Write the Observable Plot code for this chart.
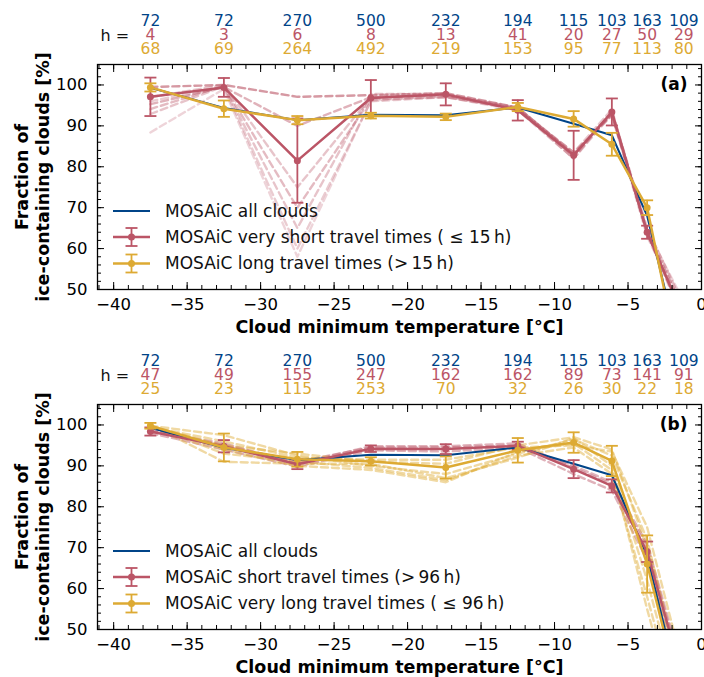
<!DOCTYPE html>
<html><head><meta charset="utf-8">
<script src="https://cdn.jsdelivr.net/npm/d3@7"></script>
<script src="https://cdn.jsdelivr.net/npm/@observablehq/plot@0.6"></script>
<style>
body{margin:0;background:#fff;font-family:"DejaVu Sans",sans-serif;}
.panel{position:relative;width:704px;}
.panel svg.plotsvg{display:block;}
.legend{position:absolute;left:0;top:0;pointer-events:none;}
</style></head><body>
<div id="pa" class="panel"></div>
<div id="pb" class="panel"></div>
<script>
// ---------------- data ----------------
const temps = [-37.5, -32.5, -27.5, -22.5, -17.4, -12.5, -8.7, -6.1, -3.7, -1.2];
const hAll     = [72, 72, 270, 500, 232, 194, 115, 103, 163, 109];
const hShortA  = [4, 3, 6, 8, 13, 41, 20, 27, 50, 29];
const hLongA   = [68, 69, 264, 492, 219, 153, 95, 77, 113, 80];
const hShortB  = [47, 49, 155, 247, 162, 162, 89, 73, 141, 91];
const hLongB   = [25, 23, 115, 253, 70, 32, 26, 30, 22, 18];

const fracAll = [99.3, 94.4, 91.4, 92.7, 92.6, 94.5, 90.5, 87.7, 68, 31];

const fracVeryShortA = [97.1, 99.4, 81.5, 96.8, 97.7, 93.8, 82.8, 93.4, 64, 43];
const errVeryShortA  = [4.7, 2.3, 10.3, 4.4, 2.7, 2.5, 6.0, 3.3, 1.6, 3];
const fracLongA      = [99.4, 94.2, 91.4, 92.5, 92.2, 94.6, 91.7, 85.5, 70, 27];
const errLongA       = [1.0, 2.0, 1.0, 0.7, 0.8, 1.0, 1.9, 2.8, 1.8, 2];

const fracShortB     = [98.4, 94.8, 90.4, 94.2, 94.1, 94.9, 89.2, 85.1, 69, 37];
const errShortB      = [1.0, 1.5, 1.2, 0.8, 1.2, 1.0, 2.2, 1.6, 2.5, 3];
const fracVeryLongB  = [99.8, 94.5, 91.6, 91.1, 89.6, 93.8, 95.7, 91.2, 66, 30];
const errVeryLongB   = [0.7, 3.4, 1.8, 1.0, 2.7, 3.0, 2.5, 3.7, 7.0, 5];

// sensitivity runs (dashed, translucent)
const sensVeryShortA = [
  [99.5, 100, 97.1, 97.5, 98.0, 94.5, 83.0, 93.0, 64, 45],
  [95.3, 99.5, 90.0, 97.0, 97.5, 94.0, 83.5, 92.5, 64, 42],
  [94.1, 99.8, 70.0, 96.5, 97.0, 94.2, 82.0, 93.5, 65, 46],
  [92.9, 99.7, 65.0, 97.8, 97.8, 94.3, 83.5, 94.0, 63.5, 44],
  [88.4, 99.0, 58.0, 96.2, 97.2, 94.0, 82.5, 93.0, 64.5, 47],
  [97.0, 100, 75.0, 97.0, 97.5, 94.5, 83.0, 93.2, 64, 43],
  [96.0, 99.6, 60.0, 96.0, 97.0, 93.8, 82.0, 92.8, 63, 44]
];
const sensOpacityA = [0.6, 0.45, 0.4, 0.35, 0.25, 0.35, 0.3];
const sensVeryLongB = [
  [99.8, 97.5, 92.5, 90.0, 88.0, 93.0, 96.5, 92.5, 72, 35],
  [99.5, 96.0, 92.0, 91.5, 91.5, 94.5, 95.0, 93.5, 75, 40],
  [99.8, 93.0, 91.0, 89.5, 86.5, 92.5, 94.5, 88.0, 58, 25],
  [100, 91.0, 90.5, 90.5, 87.0, 92.0, 96.8, 90.0, 62, 28],
  [99.6, 95.0, 93.0, 91.0, 90.5, 95.0, 97.0, 94.0, 70, 32],
  [99.7, 94.0, 90.0, 89.0, 86.0, 93.5, 95.5, 89.0, 55, 22]
];
const sensShortB = [
  [98.5, 95.5, 90.5, 94.8, 94.8, 95.5, 89.5, 85.5, 70, 38],
  [98.0, 94.0, 89.8, 93.8, 93.5, 94.5, 88.0, 84.0, 67, 35],
  [98.8, 95.0, 91.0, 94.5, 94.5, 95.0, 90.0, 86.0, 71, 39]
];

const xTicks = [-40, -35, -30, -25, -20, -15, -10, -5, 0];
const yTicks = [50, 60, 70, 80, 90, 100];

const BLUE = "#004488", RED = "#BB5566", YEL = "#DDAA33";
const FONT = "DejaVu Sans";

const rows = (vals, errs) => temps.map((t, i) => ({t, v: vals[i], e: errs ? errs[i] : 0}));
const capSymbol = {draw(ctx, size) { const w = Math.sqrt(size / Math.PI); ctx.moveTo(-w, 0); ctx.lineTo(w, 0); }};
const fmt = d => d < 0 ? "\u2212" + (-d) : String(d);

function seriesMarks(vals, errs, color, width) {
  const d = rows(vals, errs);
  return [
    Plot.line(d, {x: "t", y: "v", stroke: color, strokeWidth: width, clip: true}),
    Plot.ruleX(d, {x: "t", y1: r => r.v - r.e, y2: r => r.v + r.e, stroke: color, strokeWidth: 1.8, clip: true}),
    Plot.dot(d, {x: "t", y: r => r.v - r.e, symbol: capSymbol, r: 6, stroke: color, strokeWidth: 1.8, fill: "none", clip: true}),
    Plot.dot(d, {x: "t", y: r => r.v + r.e, symbol: capSymbol, r: 6, stroke: color, strokeWidth: 1.8, fill: "none", clip: true}),
    Plot.dot(d, {x: "t", y: "v", r: 3.5, fill: color, stroke: "none", clip: true})
  ];
}

function dashedMarks(sets, color, ops, def) {
  return sets.map((s, k) => Plot.line(rows(s), {x: "t", y: "v", stroke: color, strokeWidth: 2.4,
    strokeDasharray: "7,4", strokeOpacity: ops ? ops[k] : def, clip: true}));
}

function panel(cfg) {
  const marks = [
    ...cfg.dashed,
    Plot.line(rows(fracAll), {x: "t", y: "v", stroke: BLUE, strokeWidth: 2, clip: true}),
    ...seriesMarks(cfg.r.vals, cfg.r.errs, RED, 2.5),
    ...seriesMarks(cfg.y.vals, cfg.y.errs, YEL, 2.5),
    Plot.frame({stroke: "#000", strokeWidth: 1.3}),
    // axes with inward ticks
    Plot.axisX({ticks: xTicks, tickSize: -7, tickPadding: 16, tickFormat: fmt, label: null, fontSize: 16.5}),
    Plot.axisX({ticks: d3.range(-41, 1, 1), tickSize: -4, tickFormat: () => "", label: null}),
    Plot.axisX({anchor: "top", ticks: xTicks, tickSize: -7, tickFormat: () => "", label: null}),
    Plot.axisX({anchor: "top", ticks: d3.range(-41, 1, 1), tickSize: -4, tickFormat: () => "", label: null}),
    Plot.axisY({ticks: yTicks, tickSize: -7, tickPadding: 17, tickFormat: fmt, label: null, fontSize: 16.5}),
    Plot.axisY({ticks: d3.range(50, 105, 2), tickSize: -4, tickFormat: () => "", label: null}),
    Plot.axisY({anchor: "right", ticks: yTicks, tickSize: -7, tickFormat: () => "", label: null}),
    Plot.axisY({anchor: "right", ticks: d3.range(50, 105, 2), tickSize: -4, tickFormat: () => "", label: null}),
    // axis titles
    Plot.text(["Cloud minimum temperature [°C]"], {frameAnchor: "bottom", dy: 38, lineAnchor: "middle",
      fontWeight: "bold", fontSize: 17.5, fill: "#000"}),
    Plot.text(["Fraction of\nice-containing clouds [%]"], {frameAnchor: "left", rotate: -90, dx: -66,
      textAnchor: "middle", lineAnchor: "middle", lineHeight: 1.25, fontWeight: "bold", fontSize: 17.5, fill: "#000"}),
    Plot.text([cfg.tag], {frameAnchor: "top-right", dx: -14, dy: 20, textAnchor: "end", lineAnchor: "middle",
      fontWeight: "bold", fontSize: 17, fill: "#000"}),
    // counts
    Plot.text(["h ="], {frameAnchor: "top-left", dx: 3, dy: -29, textAnchor: "start", lineAnchor: "middle", fontSize: 16, fill: "#111"}),
    Plot.text(temps, {x: d => d, text: (d, i) => String(hAll[i]), frameAnchor: "top", dy: -43, lineAnchor: "middle", fontSize: 15.5, fill: BLUE}),
    Plot.text(temps, {x: d => d, text: (d, i) => String(cfg.hR[i]), frameAnchor: "top", dy: -29, lineAnchor: "middle", fontSize: 15.5, fill: RED}),
    Plot.text(temps, {x: d => d, text: (d, i) => String(cfg.hY[i]), frameAnchor: "top", dy: -15, lineAnchor: "middle", fontSize: 15.5, fill: YEL})
  ];
  const svg = Plot.plot({
    width: 704, height: cfg.height,
    marginTop: 64, marginBottom: cfg.height - 289, marginLeft: 97, marginRight: 3,
    style: {fontFamily: FONT, fontSize: "16px", color: "#000", background: "#fff", overflow: "visible"},
    x: {domain: [-41.1, 0], label: null},
    y: {domain: [50, 105], label: null},
    marks
  });
  svg.classList.add("plotsvg");
  const host = document.getElementById(cfg.id);
  host.appendChild(svg);

  // legend overlay
  const lg = d3.select(host).append("svg").attr("class", "legend").attr("width", 704).attr("height", cfg.height);
  const items = [
    {label: "MOSAiC all clouds", color: BLUE, err: false, w: 2},
    {label: cfg.r.label, color: RED, err: true, w: 2.5},
    {label: cfg.y.label, color: YEL, err: true, w: 2.5}
  ];
  const ys = [211, 237, 263.5];
  items.forEach((it, i) => {
    const g = lg.append("g").attr("transform", `translate(0,${ys[i]})`);
    g.append("line").attr("x1", 113).attr("x2", 150).attr("y1", 0).attr("y2", 0)
      .attr("stroke", it.color).attr("stroke-width", it.w);
    if (it.err) {
      g.append("line").attr("x1", 131.5).attr("x2", 131.5).attr("y1", -9).attr("y2", 9).attr("stroke", it.color).attr("stroke-width", 1.8);
      g.append("line").attr("x1", 125.5).attr("x2", 137.5).attr("y1", -9).attr("y2", -9).attr("stroke", it.color).attr("stroke-width", 1.8);
      g.append("line").attr("x1", 125.5).attr("x2", 137.5).attr("y1", 9).attr("y2", 9).attr("stroke", it.color).attr("stroke-width", 1.8);
      g.append("circle").attr("cx", 131.5).attr("cy", 0).attr("r", 3.5).attr("fill", it.color);
    }
    g.append("text").attr("x", 165).attr("y", 0).attr("dy", "0.35em")
      .attr("font-family", FONT).attr("font-size", 17).attr("fill", "#111").text(it.label);
  });
}

panel({id: "pa", height: 340, tag: "(a)", hR: hShortA, hY: hLongA,
  r: {vals: fracVeryShortA, errs: errVeryShortA, label: "MOSAiC very short travel times ( \u2264 15\u2009h)"},
  y: {vals: fracLongA, errs: errLongA, label: "MOSAiC long travel times (>\u200915\u2009h)"},
  dashed: dashedMarks(sensVeryShortA, RED, sensOpacityA)});

panel({id: "pb", height: 337, tag: "(b)", hR: hShortB, hY: hLongB,
  r: {vals: fracShortB, errs: errShortB, label: "MOSAiC short travel times (>\u200996\u2009h)"},
  y: {vals: fracVeryLongB, errs: errVeryLongB, label: "MOSAiC very long travel times ( \u2264 96\u2009h)"},
  dashed: [...dashedMarks(sensShortB, RED, null, 0.45), ...dashedMarks(sensVeryLongB, YEL, null, 0.45)]});
</script>
</body></html>
